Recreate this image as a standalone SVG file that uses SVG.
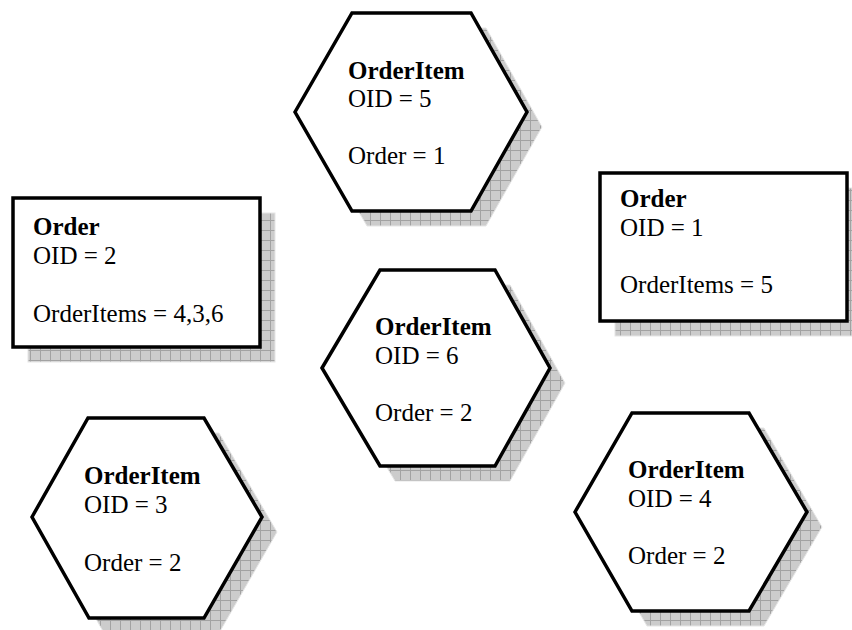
<svg xmlns="http://www.w3.org/2000/svg" width="852" height="630" viewBox="0 0 852 630">
<defs>
<pattern id="grid" width="10" height="10" patternUnits="userSpaceOnUse">
<rect width="10" height="10" fill="#cccccc"/>
<path d="M0 0.5H10M0.5 0V10" stroke="#a2a2a2" stroke-width="1" fill="none"/>
</pattern>
<style>
.shadow{fill:url(#grid);stroke:#e6e6e6;stroke-width:1}
.shape{fill:#ffffff;stroke:#000000;stroke-width:3.5;stroke-linejoin:miter}
text{font-family:"Liberation Serif","Times New Roman",serif;font-size:25px;fill:#000000}
.title{font-weight:bold}
</style>
</defs>
<rect width="852" height="630" fill="#ffffff"/>
<g id="connectors"></g>

<g id="orderitem5">
<polygon class="shadow" points="310,127 367,28 486,28 542,127 486,226 367,226"/>
<polygon class="shape" points="295,112 352,13 471,13 527,112 471,211 352,211"/>
<text x="348" y="79" class="title">OrderItem</text>
<text x="348" y="107">OID = 5</text>
<text x="348" y="164">Order = 1</text>
</g>

<g id="order2">
<rect class="shadow" x="28" y="213" width="247" height="149"/>
<rect class="shape" x="13" y="198" width="247" height="149"/>
<text x="33" y="235" class="title">Order</text>
<text x="33" y="264">OID = 2</text>
<text x="33" y="322">OrderItems = 4,3,6</text>
</g>

<g id="order1">
<rect class="shadow" x="615" y="188" width="247" height="148"/>
<rect class="shape" x="600" y="173" width="247" height="148"/>
<text x="620" y="207" class="title">Order</text>
<text x="620" y="236">OID = 1</text>
<text x="620" y="293">OrderItems = 5</text>
</g>

<g id="orderitem6">
<polygon class="shadow" points="337,383 395,285 510,285 565,383 510,481 395,481"/>
<polygon class="shape" points="322,368 380,270 495,270 550,368 495,466 380,466"/>
<text x="375" y="335" class="title">OrderItem</text>
<text x="375" y="364">OID = 6</text>
<text x="375" y="421">Order = 2</text>
</g>

<g id="orderitem3">
<polygon class="shadow" points="47,532 103,433 219,433 277,532 219,633 104,633"/>
<polygon class="shape" points="32,517 88,418 204,418 262,517 204,618 89,618"/>
<text x="84" y="484" class="title">OrderItem</text>
<text x="84" y="513">OID = 3</text>
<text x="84" y="571">Order = 2</text>
</g>

<g id="orderitem4">
<polygon class="shadow" points="590,527 647,428 764,428 822,527 764,626 647,626"/>
<polygon class="shape" points="575,512 632,413 749,413 807,512 749,611 632,611"/>
<text x="628" y="478" class="title">OrderItem</text>
<text x="628" y="507">OID = 4</text>
<text x="628" y="564">Order = 2</text>
</g>
</svg>
